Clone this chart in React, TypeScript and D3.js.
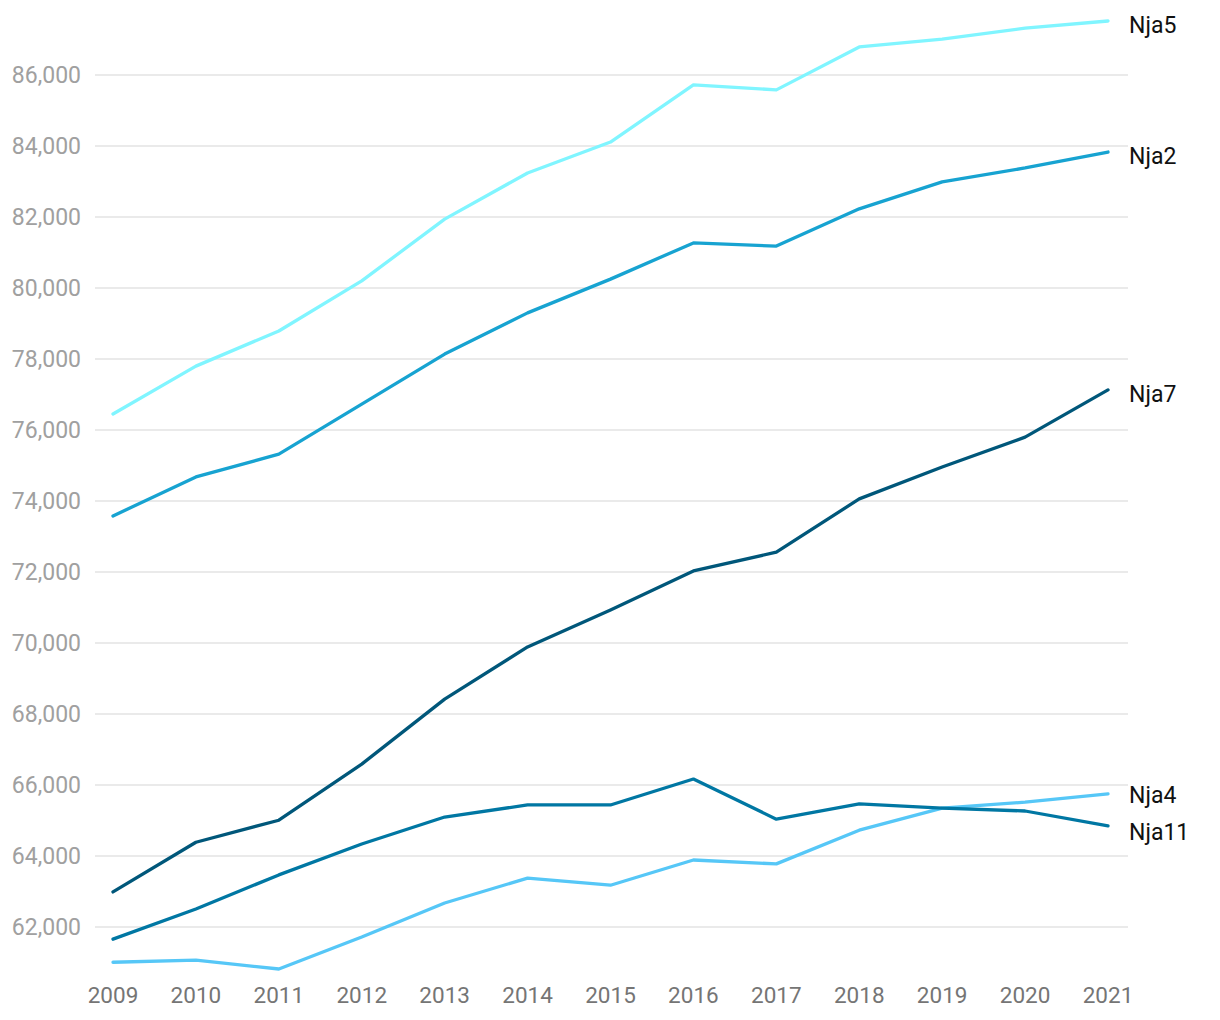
import React from "react";
import * as d3 from "d3";

const years = [2009, 2010, 2011, 2012, 2013, 2014, 2015, 2016, 2017, 2018, 2019, 2020, 2021];
const nja5 = [76450, 77800, 78790, 80200, 81940, 83240, 84110, 85720, 85580, 86790, 87010, 87320, 87520];
const nja2 = [73580, 74680, 75320, 76730, 78140, 79300, 80250, 81270, 81180, 82230, 82990, 83380, 83830];
const nja7 = [62990, 64390, 65010, 66590, 68420, 69890, 70930, 72030, 72560, 74060, 74960, 75800, 77130];
const nja4 = [61010, 61070, 60820, 61720, 62680, 63380, 63180, 63890, 63780, 64730, 65350, 65520, 65750];
const nja11 = [61660, 62510, 63470, 64340, 65100, 65440, 65440, 66170, 65040, 65470, 65350, 65270, 64850];
const yTicks = [62000, 64000, 66000, 68000, 70000, 72000, 74000, 76000, 78000, 80000, 82000, 84000, 86000];

const series = [
  { name: "Nja5", values: nja5, color: "#80f5ff" },
  { name: "Nja2", values: nja2, color: "#17a3d1" },
  { name: "Nja7", values: nja7, color: "#00577a" },
  { name: "Nja4", values: nja4, color: "#56c7f7" },
  { name: "Nja11", values: nja11, color: "#0077a3" },
];

export default function App() {
  const W = 1220, H = 1020;
  const x = d3.scaleLinear().domain([2009, 2021]).range([113, 1108]);
  const allVals = series.flatMap((s) => s.values);
  const y = d3.scaleLinear().domain([d3.min(allVals)!, d3.max(allVals)!]).range([969, 21]);
  const line = d3.line<number>().x((_, i) => x(years[i])).y((v) => y(v));
  const fmt = d3.format(",");

  const labels = series.map((s) => ({ name: s.name, y: y(s.values[s.values.length - 1]) }));
  labels.sort((a, b) => a.y - b.y);
  const minGap = 37;
  for (let iter = 0; iter < 50; iter++) {
    let moved = false;
    for (let i = 1; i < labels.length; i++) {
      const d = labels[i].y - labels[i - 1].y;
      if (d < minGap) {
        const shift = (minGap - d) / 2;
        labels[i].y += shift;
        labels[i - 1].y -= shift;
        moved = true;
      }
    }
    if (!moved) break;
  }

  return (
    <svg width={W} height={H} style={{ position: "absolute", left: 0, top: 0, background: "#fff" }}
      fontFamily="Roboto, 'Noto Sans', sans-serif">
      <g>
        {yTicks.map((t) => (
          <g key={t}>
            <line x1={95} x2={1128} y1={y(t)} y2={y(t)} stroke="#e3e3e3" strokeWidth={1.5} />
            <text x={81} y={y(t)} dy="0.35em" textAnchor="end" fontSize={23} fill="#a0a0a0">
              {fmt(t)}
            </text>
          </g>
        ))}
      </g>
      <g>
        {years.map((yr) => (
          <text key={yr} x={x(yr)} y={995} dy="0.35em" textAnchor="middle" fontSize={22.5} fill="#757575">
            {yr}
          </text>
        ))}
      </g>
      <g>
        {series.map((s) => (
          <path key={s.name} d={line(s.values)!} fill="none" stroke={s.color} strokeWidth={3.3}
            strokeLinejoin="round" strokeLinecap="round" />
        ))}
      </g>
      <g>
        {labels.map((l) => (
          <text key={l.name} x={1129} y={l.y + 4} dy="0.35em" fontSize={23} fill="#111">
            {l.name}
          </text>
        ))}
      </g>
    </svg>
  );
}
